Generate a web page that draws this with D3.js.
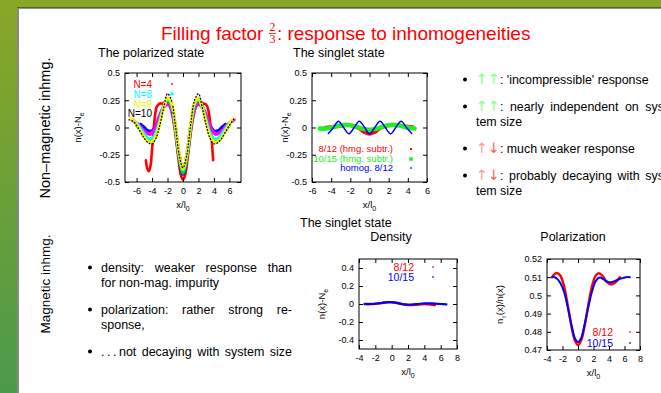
<!DOCTYPE html>
<html>
<head>
<meta charset="utf-8">
<script src="https://cdn.jsdelivr.net/npm/d3@7"></script>
<style>
body { margin: 0; background: #fff; }
svg text { font-family: "Liberation Sans", Arial, sans-serif; }
</style>
</head>
<body>
<svg id="slide" width="661" height="393"></svg>
<script>
// ---- data ----
// polarized state, non-magnetic impurity: n(x)-Ne for N=4..10
const polN4 = [[-4.8,-0.30],[-4.6,-0.38],[-4.4,-0.40],[-4.2,-0.35],[-4.0,-0.20],[-3.8,-0.02],[-3.6,0.12],[-3.4,0.19],[-3.0,0.22],[-2.6,0.22],[-2.2,0.24],[-1.8,0.22],[-1.4,0.12],[-1.0,-0.05],[-0.6,-0.28],[-0.3,-0.43],[0,-0.48],[0.3,-0.43],[0.6,-0.28],[1.0,-0.05],[1.4,0.12],[1.8,0.22],[2.2,0.24],[2.6,0.22],[3.0,0.21],[3.3,0.15],[3.6,-0.02],[3.9,-0.30]]
const polN5 = [[-5.5,0.03],[-5.0,0.0],[-4.5,-0.03],[-4.0,-0.03],[-3.5,0.02],[-3.0,0.10],[-2.5,0.19],[-2.0,0.24],[-1.5,0.19],[-1.0,0.0],[-0.5,-0.28],[0,-0.43],[0.5,-0.28],[1.0,0.0],[1.5,0.19],[2.0,0.24],[2.5,0.19],[3.0,0.10],[3.5,0.02],[4.0,-0.03],[4.5,-0.03],[5.0,0.0],[5.5,0.03]]
const polN6 = [[-6.6,0.07],[-6.2,0.05],[-5.7,0.02],[-5.2,-0.02],[-4.7,-0.05],[-4.2,-0.06],[-3.7,-0.02],[-3.2,0.07],[-2.7,0.16],[-2.2,0.21],[-1.8,0.21],[-1.4,0.15],[-1.0,0.0],[-0.5,-0.26],[0,-0.40],[0.5,-0.26],[1.0,0.0],[1.4,0.15],[1.8,0.21],[2.2,0.21],[2.7,0.16],[3.2,0.07],[3.7,-0.02],[4.2,-0.06],[4.7,-0.05],[5.2,-0.02],[5.7,0.02],[6.2,0.05],[6.6,0.07]]
const polN7 = [[-6.0,0.02],[-5.5,-0.03],[-5.0,-0.08],[-4.5,-0.11],[-4.0,-0.11],[-3.5,-0.05],[-3.0,0.07],[-2.5,0.19],[-2.0,0.25],[-1.5,0.20],[-1.0,0.0],[-0.5,-0.27],[0,-0.42],[0.5,-0.27],[1.0,0.0],[1.5,0.20],[2.0,0.25],[2.5,0.19],[3.0,0.07],[3.5,-0.05],[4.0,-0.11],[4.5,-0.11],[5.0,-0.08],[5.5,-0.03],[6.0,0.02]]
const polN8 = [[-6.3,0.06],[-6.0,0.04],[-5.5,-0.01],[-5.0,-0.06],[-4.5,-0.10],[-4.0,-0.10],[-3.5,-0.05],[-3.0,0.06],[-2.5,0.19],[-2.0,0.26],[-1.5,0.22],[-1.0,0.02],[-0.5,-0.25],[0,-0.39],[0.5,-0.25],[1.0,0.02],[1.5,0.22],[2.0,0.26],[2.5,0.19],[3.0,0.06],[3.5,-0.05],[4.0,-0.10],[4.5,-0.10],[5.0,-0.06],[5.5,-0.01],[6.0,0.04],[6.3,0.06]]
const polN9 = [[-6.8,0.08],[-6.5,0.07],[-6.0,0.03],[-5.5,-0.03],[-5.0,-0.09],[-4.5,-0.13],[-4.0,-0.13],[-3.5,-0.08],[-3.0,0.04],[-2.5,0.18],[-2.0,0.27],[-1.5,0.23],[-1.0,0.03],[-0.5,-0.24],[0,-0.38],[0.5,-0.24],[1.0,0.03],[1.5,0.23],[2.0,0.27],[2.5,0.18],[3.0,0.04],[3.5,-0.08],[4.0,-0.13],[4.5,-0.13],[5.0,-0.09],[5.5,-0.03],[6.0,0.03],[6.5,0.08]]
const polN10 = [[-7.0,0.07],[-6.5,0.06],[-6.0,0.02],[-5.5,-0.04],[-5.0,-0.10],[-4.5,-0.14],[-4.0,-0.15],[-3.5,-0.10],[-3.0,0.02],[-2.5,0.18],[-2.0,0.31],[-1.5,0.25],[-1.0,0.03],[-0.5,-0.25],[0,-0.37],[0.5,-0.25],[1.0,0.03],[1.5,0.25],[2.0,0.31],[2.5,0.18],[3.0,0.02],[3.5,-0.10],[4.0,-0.15],[4.5,-0.14],[5.0,-0.10],[5.5,-0.04],[6.0,0.02],[6.5,0.07],[6.8,0.09]]

// singlet state, non-magnetic impurity
const sing812 = [[-4.6,0.0],[-4.0,0.005],[-3.5,0.01],[-3.0,0.015],[-2.5,0.02],[-2.0,0.02],[-1.5,0.01],[-1.0,-0.015],[-0.5,-0.045],[0,-0.06],[0.5,-0.045],[1.0,-0.015],[1.5,0.01],[2.0,0.02],[2.5,0.025],[3.0,0.02],[3.5,0.015],[4.0,0.01],[4.5,0.005]]
const sing1015 = [[-5.2,-0.01],[-4.5,-0.01],[-4.0,0.0],[-3.5,0.01],[-3.0,0.02],[-2.5,0.025],[-2.0,0.02],[-1.5,0.01],[-1.0,-0.005],[-0.5,-0.015],[0,-0.02],[0.5,-0.015],[1.0,-0.005],[1.5,0.01],[2.0,0.02],[2.5,0.025],[3.0,0.02],[3.5,0.01],[4.0,0.0],[4.7,-0.01]]
const singHomog = [[-4.3,-0.055],[-3.75,0.0],[-3.25,0.058],[-2.7,0.0],[-2.15,-0.058],[-1.6,0.0],[-1.07,0.058],[-0.5,0.0],[0,-0.058],[0.55,0.0],[1.1,0.058],[1.65,0.0],[2.2,-0.058],[2.75,0.0],[3.3,0.058],[3.85,0.0],[4.4,-0.055]]

// singlet state, magnetic impurity: density
const dens812 = [[-3.3,0.0],[-2.5,0.0],[-2.0,0.003],[-1.5,0.008],[-1.0,0.015],[-0.5,0.02],[0,0.02],[0.5,0.015],[1.0,0.005],[1.5,-0.005],[2.0,-0.01],[2.5,-0.01],[3.0,-0.008],[3.5,-0.004],[4.0,0.0],[4.5,-0.003],[5.0,-0.008],[5.3,-0.01]]
const dens1015 = [[-3.3,0.0],[-2.5,0.0],[-2.0,0.003],[-1.5,0.008],[-1.0,0.015],[-0.5,0.02],[0,0.02],[0.5,0.015],[1.0,0.005],[1.5,-0.003],[2.0,-0.008],[2.5,-0.006],[3.0,-0.002],[3.5,0.003],[4.0,0.006],[4.5,0.007],[5.0,0.006],[5.5,0.003],[6.0,0.0],[6.7,-0.005]]

// singlet state, magnetic impurity: polarization n_up/n
const pol812 = [[-3.35,0.510],[-2.8,0.5123],[-2.3,0.511],[-1.8,0.505],[-1.3,0.494],[-0.8,0.482],[-0.4,0.4752],[0,0.4727],[0.4,0.4752],[0.8,0.482],[1.3,0.494],[1.8,0.505],[2.3,0.511],[2.7,0.5122],[3.2,0.5105],[3.7,0.5075],[4.3,0.506],[4.8,0.507],[5.4,0.510]]
const pol1015 = [[-3.3,0.5102],[-2.8,0.5095],[-2.3,0.507],[-1.8,0.502],[-1.3,0.493],[-0.8,0.483],[-0.4,0.4765],[0,0.4743],[0.4,0.4765],[0.8,0.483],[1.3,0.493],[1.8,0.502],[2.3,0.508],[2.8,0.5098],[3.3,0.5088],[3.8,0.5075],[4.3,0.5072],[4.8,0.508],[5.5,0.5092],[6.2,0.510],[6.7,0.510]]

const ticksX1 = [-6, -4, -2, 0, 2, 4, 6]
const ticksX3 = [-4, -2, 0, 2, 4, 6, 8]
const ticksY1 = [-0.5, -0.25, 0, 0.25, 0.5]
const ticksY3 = [-0.4, -0.2, 0, 0.2, 0.4]
const ticksY4 = [0.47, 0.48, 0.49, 0.5, 0.51, 0.52]

const upUp = [['↑', '#88ff88', 1], ['↑', '#88ff88', 1], [':', '#000']]
const upDown = [['↑', '#ff9c9c', 1], ['↓', '#ff5a5a', 1], [':', '#000']]
const bulletsRight = [
  [[upUp, "'incompressible'", 'response'], false],
  [[upUp, 'nearly', 'independent', 'on', 'sys-'], true],
  [['tem', 'size'], false],
  [[upDown, 'much', 'weaker', 'response'], false],
  [[upDown, 'probably', 'decaying', 'with', 'sys-'], true],
  [['tem', 'size'], false]
]
const bulletsLeft = [
  [['density:', 'weaker', 'response', 'than'], true],
  [['for', 'non-mag.', 'impurity'], false],
  [['polarization:', 'rather', 'strong', 're-'], true],
  [['sponse,'], false],
  [['.\u2009.\u2009.\u2009not', 'decaying', 'with', 'system', 'size'], true]
]

// ---- drawing ----
const svg = d3.select('#slide')
const defs = svg.append('defs')
const grad = defs.append('linearGradient').attr('id', 'bg')
  .attr('x1', 0).attr('y1', 0).attr('x2', 0).attr('y2', 1)
grad.append('stop').attr('offset', 0).attr('stop-color', '#89a726')
grad.append('stop').attr('offset', 1).attr('stop-color', '#4b9a4b')

svg.append('rect').attr('width', 661).attr('height', 393).attr('fill', 'url(#bg)')
svg.append('rect').attr('x', 18).attr('y', 8).attr('width', 650).attr('height', 400).attr('fill', '#fff')
svg.append('line').attr('x1', 17).attr('x2', 661).attr('y1', 8).attr('y2', 8).attr('stroke', '#222')
svg.append('line').attr('x1', 18).attr('x2', 18).attr('y1', 8).attr('y2', 393).attr('stroke', '#888').attr('stroke-width', 2)

// main title with stacked fraction
const title = svg.append('text').attr('x', 161).attr('y', 40)
  .attr('font-size', 19).attr('fill', '#ff0000').text('Filling factor')
const tw = title.node().getComputedTextLength()
const fx = 161 + tw + 9
const serif = '"Liberation Serif", "DejaVu Serif", serif'
svg.append('text').attr('x', fx).attr('y', 31).attr('text-anchor', 'middle')
  .style('font-family', serif).attr('font-size', 12).attr('fill', '#ff0000').text('2')
svg.append('line').attr('x1', fx - 3.5).attr('x2', fx + 3.5).attr('y1', 33.5).attr('y2', 33.5)
  .attr('stroke', '#ff0000').attr('stroke-width', 0.8)
svg.append('text').attr('x', fx).attr('y', 43).attr('text-anchor', 'middle')
  .style('font-family', serif).attr('font-size', 12).attr('fill', '#ff0000').text('3')
svg.append('text').attr('x', fx + 4.5).attr('y', 40)
  .attr('font-size', 19).attr('fill', '#ff0000').text(': response to inhomogeneities')

// section labels
svg.append('text').attr('transform', 'translate(50,128) rotate(-90)')
  .attr('text-anchor', 'middle').attr('font-size', 14.5).text('Non\u2013magnetic inhmg.')
svg.append('text').attr('transform', 'translate(50,284) rotate(-90)')
  .attr('text-anchor', 'middle').attr('font-size', 13.5).text('Magnetic inhmg.')

// sub titles
const subs = [
  ['The polarized state', 98, 57, 'start'],
  ['The singlet state', 293, 57, 'start'],
  ['The singlet state', 300, 227, 'start'],
  ['Density', 391, 241, 'middle'],
  ['Polarization', 573, 241, 'middle']
]
subs.forEach(s => svg.append('text').attr('x', s[1]).attr('y', s[2])
  .attr('text-anchor', s[3]).attr('font-size', 12.5).text(s[0]))

function drawPanel(cfg) {
  const g = svg.append('g')
  const x = d3.scaleLinear().domain(cfg.xDomain).range([cfg.left, cfg.right])
  const y = d3.scaleLinear().domain(cfg.yDomain).range([cfg.bottom, cfg.top])
  const clipId = 'clip-' + cfg.name
  defs.append('clipPath').attr('id', clipId).append('rect')
    .attr('x', cfg.left).attr('y', cfg.top)
    .attr('width', cfg.right - cfg.left).attr('height', cfg.bottom - cfg.top)

  const line = d3.line().x(d => x(d[0])).y(d => y(d[1])).curve(d3.curveCatmullRom)
  cfg.series.forEach(s => {
    g.append('path')
      .attr('clip-path', `url(#${clipId})`)
      .attr('d', line(s.data))
      .attr('fill', 'none')
      .attr('stroke', s.color)
      .attr('stroke-width', s.width)
      .attr('stroke-linecap', 'round')
      .attr('stroke-dasharray', s.dash || null)
  })

  // legend
  cfg.legend.forEach(l => {
    g.append('text').attr('x', cfg.keyX).attr('y', l.y).attr('dy', '0.35em')
      .attr('text-anchor', 'end').attr('font-size', cfg.keySize).attr('fill', l.color).text(l.text)
    g.append('rect').attr('x', cfg.markX - l.size / 2).attr('y', l.y - l.size / 2)
      .attr('width', l.size).attr('height', l.size).attr('fill', l.color)
  })

  const fmt = d => String(d)
  const axes = [
    [d3.axisBottom(x).tickValues(cfg.xTicks).tickFormat(fmt).tickPadding(6), cfg.bottom, 0],
    [d3.axisTop(x).tickValues(cfg.xTicks).tickFormat(''), cfg.top, 0],
    [d3.axisLeft(y).tickValues(cfg.yTicks).tickFormat(fmt).tickPadding(5), 0, cfg.left],
    [d3.axisRight(y).tickValues(cfg.yTicks).tickFormat(''), 0, cfg.right]
  ]
  axes.forEach(a => {
    const ax = g.append('g').attr('transform', `translate(${a[2]},${a[1]})`)
      .call(a[0].tickSize(-4))
    ax.select('.domain').remove()
    ax.selectAll('line').attr('stroke', '#000')
    ax.selectAll('text').attr('font-size', 9).attr('fill', '#000')
      .style('font-family', '"Liberation Sans", Arial, sans-serif')
  })
  g.append('rect').attr('x', cfg.left).attr('y', cfg.top)
    .attr('width', cfg.right - cfg.left).attr('height', cfg.bottom - cfg.top)
    .attr('fill', 'none').attr('stroke', '#000')

  // axis titles
  const xl = g.append('text').attr('x', (cfg.left + cfg.right) / 2).attr('y', cfg.bottom + 26)
    .attr('text-anchor', 'middle').attr('font-size', 9.5).text('x/l')
  xl.append('tspan').attr('font-size', 7).attr('dy', 2.5).text('0')

  const yl = g.append('text')
    .attr('transform', `translate(${cfg.yLabelX},${(cfg.top + cfg.bottom) / 2}) rotate(-90)`)
    .attr('text-anchor', 'middle').attr('font-size', 9.5)
  cfg.yLabel.forEach(p => {
    yl.append('tspan').attr('font-size', p[2] ? 7 : 9.5).attr('dy', p[1]).text(p[0])
  })
}

const labNe = [['n(x)-N', 0, false], ['e', 2.5, true]]

drawPanel({
  name: 'pol', left: 125, right: 241, top: 73, bottom: 182,
  xDomain: [-7.5, 7.5], yDomain: [-0.5, 0.5], xTicks: ticksX1, yTicks: ticksY1,
  yLabelX: 81, yLabel: labNe, keyX: 152, markX: 172, keySize: 10,
  series: [
    { data: polN4, color: '#ff0000', width: 2.6 },
    { data: polN5, color: '#0000ff', width: 3 },
    { data: polN6, color: '#ff00ff', width: 3.6 },
    { data: polN7, color: '#00dd00', width: 3 },
    { data: polN8, color: '#00ffff', width: 3 },
    { data: polN9, color: '#f4f400', width: 3 },
    { data: polN10, color: '#000', width: 1.3, dash: '0.8,2.4' }
  ],
  legend: [
    { text: 'N=4', color: '#ff0000', y: 84, size: 1.6 },
    { text: 'N=8', color: '#00ffff', y: 94, size: 3 },
    { text: 'N=9', color: '#f4f400', y: 104, size: 2 },
    { text: 'N=10', color: '#000', y: 113, size: 1.2 }
  ]
})

drawPanel({
  name: 'sing', left: 312, right: 427, top: 73, bottom: 182,
  xDomain: [-6, 6], yDomain: [-0.5, 0.5], xTicks: ticksX1, yTicks: ticksY1,
  yLabelX: 288, yLabel: labNe, keyX: 393, markX: 411, keySize: 9.5,
  series: [
    { data: sing812, color: '#ff0000', width: 3.5 },
    { data: sing1015, color: '#22ee22', width: 4.5 },
    { data: singHomog, color: '#0000ff', width: 1.5 }
  ],
  legend: [
    { text: '8/12 (hmg. subtr.)', color: '#ff0000', y: 149, size: 2 },
    { text: '10/15 (hmg. subtr.)', color: '#22ee22', y: 159, size: 3.5 },
    { text: 'homog. 8/12', color: '#0000ff', y: 168, size: 1.5 }
  ]
})

drawPanel({
  name: 'dens', left: 359, right: 457, top: 259, bottom: 349,
  xDomain: [-4, 8], yDomain: [-0.5, 0.5], xTicks: ticksX3, yTicks: ticksY3,
  yLabelX: 325, yLabel: labNe, keyX: 414, markX: 433, keySize: 10.5,
  series: [
    { data: dens812, color: '#ff0000', width: 2.5 },
    { data: dens1015, color: '#0000ff', width: 2.2 }
  ],
  legend: [
    { text: '8/12', color: '#ff0000', y: 267, size: 1.5 },
    { text: '10/15', color: '#0000ff', y: 277, size: 1.5 }
  ]
})

drawPanel({
  name: 'polz', left: 547, right: 640, top: 259, bottom: 350,
  xDomain: [-4, 8], yDomain: [0.47, 0.52], xTicks: ticksX3, yTicks: ticksY4,
  yLabelX: 503, yLabel: [['n', 0, false], ['\u2191', 2.5, true], ['(x)/n(x)', -2.5, false]],
  keyX: 613, markX: 630, keySize: 10.5,
  series: [
    { data: pol812, color: '#ff0000', width: 2.4 },
    { data: pol1015, color: '#0000ff', width: 2 }
  ],
  legend: [
    { text: '8/12', color: '#ff0000', y: 332, size: 1.5 },
    { text: '10/15', color: '#0000ff', y: 343, size: 1.5 }
  ]
})

// bullet text blocks
function textLine(words, x0, yb, width, size) {
  const nodes = words.map(w => {
    const t = svg.append('text').attr('y', yb).attr('font-size', size)
    const parts = typeof w === 'string' ? [[w, '#000']] : w
    parts.forEach(p => {
      const ts = t.append('tspan').attr('fill', p[1]).text(p[0])
      if (p[2]) ts.style('font-family', '"DejaVu Sans", sans-serif').attr('font-size', size * 1.15)
    })
    return t
  })
  const widths = nodes.map(n => n.node().getComputedTextLength())
  let gap = size * 0.278
  if (width && nodes.length > 1) gap = (width - d3.sum(widths)) / (nodes.length - 1)
  let cx = x0
  nodes.forEach((n, i) => { n.attr('x', cx); cx += widths[i] + gap })
}

function bulletBlock(lines, bx, tx, ys, bulletRows, width, size) {
  lines.forEach((l, i) => textLine(l[0], tx, ys[i], l[1] ? width : 0, size))
  bulletRows.forEach(i => svg.append('circle').attr('cx', bx).attr('cy', ys[i] - 4.5).attr('r', 2).attr('fill', '#000'))
}

bulletBlock(bulletsRight, 465, 476, [84, 111, 126, 153, 180, 195], [0, 1, 3, 4], 192, 12.4)
bulletBlock(bulletsLeft, 90, 101, [272, 287, 314, 329, 356], [0, 2, 4], 191, 12.5)
</script>
</body>
</html>
